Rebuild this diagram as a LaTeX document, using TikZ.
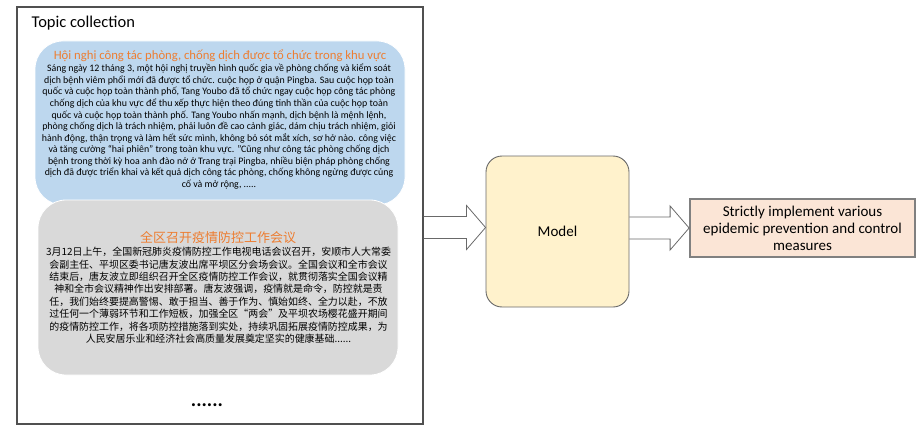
\documentclass[tikz,border=0pt]{standalone}
\usepackage{fontspec}
\setmainfont{Carlito}
\newfontfamily\cjkfont{Noto Sans CJK SC}
\usetikzlibrary{positioning}

\definecolor{titleorange}{RGB}{237,125,49}
\definecolor{topicblue}{RGB}{189,215,238}
\definecolor{topicgray}{RGB}{217,217,217}
\definecolor{modelbg}{RGB}{255,242,204}
\definecolor{outbg}{RGB}{251,229,214}
\definecolor{framegray}{RGB}{80,80,80}
\definecolor{arrowgray}{RGB}{105,105,105}

\tikzset{
  framebox/.style={
    draw=framegray, line width=1.1pt, inner sep=0pt,
    minimum width=406pt, minimum height=417pt
  },
  topicbox/.style={
    draw=white, line width=0.8pt, rounded corners=28pt, inner sep=0pt
  },
  topictitle/.style={
    text=titleorange, inner sep=0pt
  },
  topictext/.style={
    align=center, inner sep=0pt
  },
  modelbox/.style={
    draw=arrowgray, fill=modelbg, line width=0.9pt,
    rounded corners=16pt, minimum width=143pt, minimum height=151pt,
    font=\fontsize{15}{17}\selectfont
  },
  outbox/.style={
    draw=gray, fill=outbg, line width=1.8pt, inner sep=0pt,
    minimum width=225pt, minimum height=58pt, align=center,
    font=\fontsize{15}{17}\selectfont
  },
  hollowarrow/.style={
    draw=arrowgray, line width=0.8pt, line join=miter
  },
}

% hollow block arrow: tail on #1.east, tip on #2.west shifted up by #3
\newcommand{\blockarrow}[3]{%
  \coordinate (tip) at ([yshift=#3]#2.west);
  \coordinate (tail) at (#1.east |- tip);
  \draw[hollowarrow]
    ([yshift=11pt]tail) -- ([xshift=-19pt,yshift=11pt]tip)
    -- ([xshift=-19pt,yshift=22pt]tip) -- (tip)
    -- ([xshift=-19pt,yshift=-22pt]tip) -- ([xshift=-19pt,yshift=-11pt]tip)
    -- ([yshift=-11pt]tail);}

\begin{document}
\begin{tikzpicture}[x=1pt, y=-1pt]

  \useasboundingbox (0,0) rectangle (917,433);

  %% Topic collection frame
  \node[framebox] (coll) at (220,215.5) {};
  \node[anchor=base west, inner sep=0pt, font=\fontsize{16.5}{18}\selectfont]
    (colltitle) at (31.5,28) {Topic collection};

  %% Vietnamese article
  \node[topicbox, fill=topicblue, minimum width=370pt, minimum height=164pt]
    (vibox) at (220,123) {};
  \node[topictitle, anchor=base, font=\fontsize{12.7}{15}\selectfont]
    (vititle) at (220,60)
    {Hội nghị công tác phòng, chống dịch được tổ chức trong khu vực};
  \node[topictext, anchor=north, font=\fontsize{9.9}{11.56}\selectfont]
    (vitext) at (219,64) {%
    Sáng ngày 12 tháng 3, một hội nghị truyền hình quốc gia về phòng chống và kiểm soát\\
    dịch bệnh viêm phổi mới đã được tổ chức. cuộc họp ở quận Pingba. Sau cuộc họp toàn\\
    quốc và cuộc họp toàn thành phố, Tang Youbo đã tổ chức ngay cuộc họp công tác phòng\\
    chống dịch của khu vực để thu xếp thực hiện theo đúng tinh thần của cuộc họp toàn\\
    quốc và cuộc họp toàn thành phố. Tang Youbo nhấn mạnh, dịch bệnh là mệnh lệnh,\\
    phòng chống dịch là trách nhiệm, phải luôn đề cao cảnh giác, dám chịu trách nhiệm, giỏi\\
    hành động, thận trọng và làm hết sức mình, không bỏ sót mắt xích, sơ hở nào. công việc\\
    và tăng cường “hai phiên” trong toàn khu vực. "Cũng như công tác phòng chống dịch\\
    bệnh trong thời kỳ hoa anh đào nở ở Trang trại Pingba, nhiều biện pháp phòng chống\\
    dịch đã được triển khai và kết quả dịch công tác phòng, chống không ngừng được củng\\
    cố và mở rộng, .....};

  %% Chinese article
  \node[topicbox, fill=topicgray, minimum width=360pt, minimum height=175pt]
    (zhbox) at (218,287.5) {};
  \node[topictitle, anchor=base, font=\cjkfont\fontsize{13}{15}\selectfont]
    (zhtitle) at (218,242) {全区召开疫情防控工作会议};
  \node[topictext, anchor=north, font=\cjkfont\fontsize{9.95}{12.4}\selectfont]
    (zhtext) at (218.5,247) {%
    3月12日上午，全国新冠肺炎疫情防控工作电视电话会议召开，安顺市人大常委\\
    会副主任、平坝区委书记唐友波出席平坝区分会场会议。全国会议和全市会议\\
    结束后，唐友波立即组织召开全区疫情防控工作会议，就贯彻落实全国会议精\\
    神和全市会议精神作出安排部署。唐友波强调，疫情就是命令，防控就是责\\
    任，我们始终要提高警惕、敢于担当、善于作为、慎始如终、全力以赴，不放\\
    过任何一个薄弱环节和工作短板，加强全区“两会”及平坝农场樱花盛开期间\\
    的疫情防控工作，将各项防控措施落到实处，持续巩固拓展疫情防控成果，为\\
    人民安居乐业和经济社会高质量发展奠定坚实的健康基础......};

  \node[inner sep=0pt, anchor=base, font=\fontsize{20}{20}\selectfont\bfseries]
    (more) at (207,406) {......};

  %% Model and output
  \node[modelbox] (model) at (557.5,231.5) {Model};
  \node[outbox] (out) at (802.5,228)
    {Strictly implement various\\epidemic prevention and control\\measures};

  \blockarrow{coll}{model}{4pt}
  \blockarrow{model}{out}{0pt}

\end{tikzpicture}
\end{document}
